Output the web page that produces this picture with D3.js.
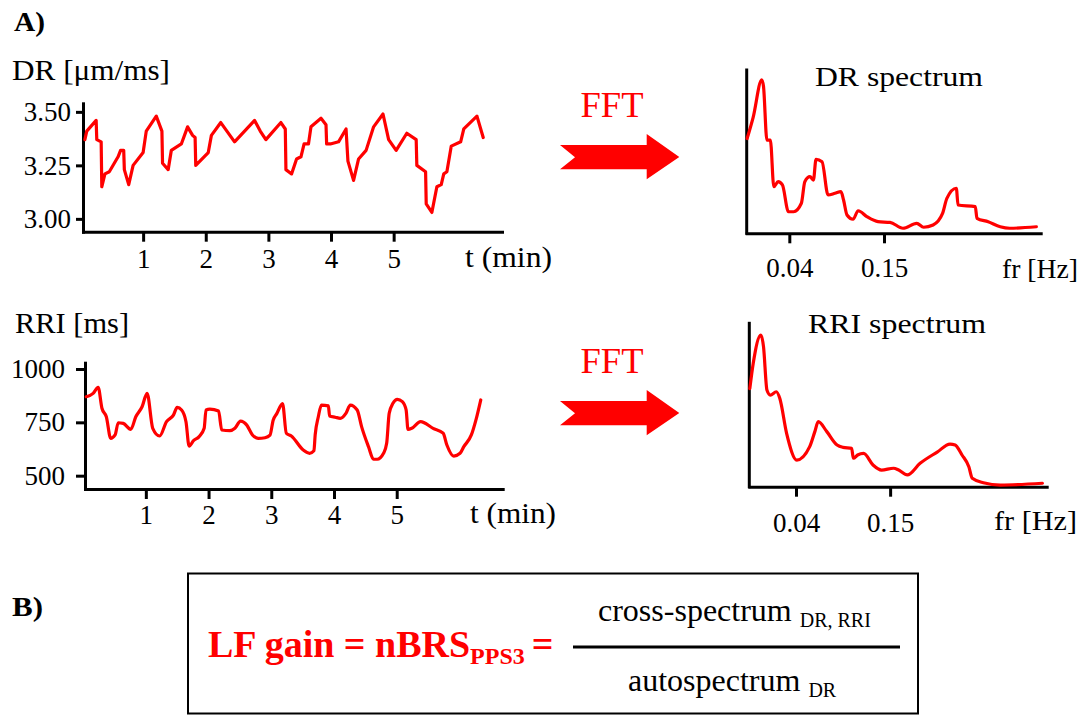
<!DOCTYPE html>
<html><head><meta charset="utf-8">
<script src="https://cdn.jsdelivr.net/npm/d3@7"></script>
<style>body{margin:0;background:#fff}svg text{font-family:"Liberation Serif","Times New Roman",serif}</style>
</head><body>
<svg id="c" width="1088" height="715"></svg>
<script>
// ---- data ----
const drTime=[0.07,0.10,0.25,0.26,0.33,0.34,0.39,0.46,0.60,0.64,0.69,0.70,0.77,0.84,1.00,1.05,1.21,1.30,1.31,1.40,1.45,1.61,1.71,1.79,1.83,1.84,2.04,2.09,2.24,2.46,2.78,2.87,2.96,3.20,3.27,3.28,3.37,3.45,3.52,3.57,3.64,3.68,3.84,3.92,3.93,3.99,4.12,4.24,4.27,4.36,4.44,4.56,4.68,4.83,4.92,5.04,5.21,5.36,5.37,5.51,5.52,5.61,5.69,5.76,5.80,5.85,5.92,6.07,6.12,6.33,6.43];
const drValues=[3.37,3.41,3.46,3.37,3.36,3.15,3.21,3.22,3.29,3.32,3.32,3.23,3.16,3.25,3.31,3.41,3.48,3.41,3.26,3.23,3.32,3.35,3.43,3.39,3.38,3.25,3.31,3.39,3.45,3.36,3.46,3.41,3.37,3.45,3.42,3.23,3.21,3.28,3.29,3.35,3.35,3.43,3.47,3.44,3.35,3.35,3.36,3.42,3.27,3.18,3.28,3.32,3.43,3.49,3.37,3.32,3.40,3.37,3.25,3.22,3.07,3.03,3.15,3.16,3.21,3.22,3.34,3.36,3.42,3.48,3.38];
const rriTime=[0.05,0.16,0.24,0.30,0.37,0.44,0.51,0.56,0.64,0.76,0.84,0.94,1.02,1.11,1.22,1.33,1.44,1.50,1.57,1.64,1.69,1.76,1.85,1.93,1.96,2.02,2.16,2.21,2.34,2.42,2.51,2.61,2.70,2.79,2.90,2.98,3.03,3.09,3.18,3.24,3.32,3.51,3.61,3.68,3.70,3.75,3.80,3.91,3.93,4.02,4.10,4.19,4.26,4.37,4.44,4.55,4.63,4.69,4.79,4.84,4.88,4.94,5.01,5.09,5.15,5.18,5.24,5.38,5.58,5.74,5.80,5.91,6.01,6.07,6.19,6.27,6.34];
const rriValues=[870,886,914,816,776,675,691,748,745,717,776,823,886,722,686,753,784,820,808,753,639,664,683,722,808,812,803,714,711,722,756,737,691,675,678,690,760,792,838,699,686,620,605,617,691,776,831,827,780,774,769,792,831,808,730,636,577,577,605,652,792,839,858,847,808,717,722,753,722,699,644,592,605,636,691,769,855];
const drSpecFreq=[-0.009,-0.002,0.008,0.010,0.014,0.018,0.022,0.027,0.032,0.039,0.045,0.054,0.058,0.064,0.068,0.071,0.078,0.085,0.093,0.100,0.103,0.107,0.114,0.120,0.130,0.143,0.157,0.172,0.188,0.196,0.207,0.218,0.223,0.234,0.236,0.256,0.258,0.271,0.285,0.296,0.327];
const drSpecPower=[0.58,0.71,0.94,0.90,0.57,0.57,0.285,0.316,0.296,0.132,0.132,0.184,0.316,0.347,0.326,0.453,0.438,0.235,0.245,0.255,0.204,0.112,0.086,0.138,0.102,0.071,0.067,0.031,0.061,0.037,0.051,0.122,0.214,0.276,0.173,0.163,0.092,0.071,0.040,0.031,0.040];
const rriSpecFreq=[-0.014,-0.010,-0.001,0.002,0.006,0.010,0.017,0.021,0.029,0.041,0.056,0.062,0.066,0.076,0.088,0.095,0.105,0.107,0.112,0.119,0.130,0.140,0.154,0.160,0.170,0.185,0.205,0.220,0.226,0.234,0.242,0.246,0.259,0.279,0.328];
const rriSpecPower=[0.60,0.755,0.928,0.857,0.592,0.561,0.581,0.541,0.327,0.163,0.245,0.337,0.398,0.337,0.255,0.241,0.235,0.174,0.194,0.204,0.133,0.102,0.113,0.102,0.072,0.143,0.212,0.261,0.255,0.194,0.122,0.051,0.024,0.010,0.021];
const timeTicks=[1,2,3,4,5];
const drTicks=[3.00,3.25,3.50];
const rriTicks=[500,750,1000];
const freqTicks=[0.04,0.15];

// ---- drawing ----
const svg=d3.select('#c');
const RED='#ff0000';
const FONT='"Liberation Serif","Times New Roman",serif';

function panel(o){
  const x=d3.scaleLinear().domain(o.xDomain).range(o.xRange);
  const y=d3.scaleLinear().domain(o.yDomain).range(o.yRange);
  const g=svg.append('g');
  if(o.yTicks){
    const ya=g.append('g').attr('transform',`translate(${o.xRange[0]},0)`)
      .call(d3.axisLeft(y).tickValues(o.yTicks).tickFormat(o.yFmt).tickSize(o.yTickLen).tickSizeOuter(0).tickPadding(o.yPad));
    ya.attr('font-family',FONT).attr('font-size',o.tickFont);
    ya.selectAll('text').attr('fill','#000');
    ya.selectAll('line').attr('stroke','#000').attr('stroke-width',3);
    ya.select('.domain').attr('stroke','#000').attr('stroke-width',3).attr('stroke-linecap','square');
  } else {
    g.append('line').attr('x1',o.xRange[0]).attr('x2',o.xRange[0]).attr('y1',o.yRange[0]).attr('y2',o.yRange[1])
      .attr('stroke','#000').attr('stroke-width',3).attr('stroke-linecap','square');
  }
  const xa=g.append('g').attr('transform',`translate(0,${o.yRange[0]})`)
    .call(d3.axisBottom(x).tickValues(o.xTicks).tickFormat(o.xFmt).tickSize(o.xTickLen).tickSizeOuter(0));
  xa.attr('font-family',FONT).attr('font-size',o.tickFont);
  xa.selectAll('text').attr('fill','#000').attr('dy',null).attr('y',o.xLabelY);
  xa.selectAll('line').attr('stroke','#000').attr('stroke-width',3);
  xa.select('.domain').attr('stroke','#000').attr('stroke-width',3).attr('stroke-linecap','square');
  const line=d3.line().x((d,i)=>x(o.xs[i])).y((d,i)=>y(o.ys[i])).curve(o.curve);
  g.append('path').datum(o.ys).attr('d',line).attr('fill','none').attr('stroke',RED)
    .attr('stroke-width',3.2).attr('stroke-linejoin','round').attr('stroke-linecap','round');
}

function txt(s,x,y,size,opts={}){
  const t=svg.append('text').attr('x',x).attr('y',y).attr('font-size',size).attr('font-family',FONT)
    .attr('fill',opts.fill||'#000').attr('font-weight',opts.bold?'bold':'normal').text(s);
  if(opts.anchor) t.attr('text-anchor',opts.anchor);
  if(opts.len) t.attr('textLength',opts.len).attr('lengthAdjust','spacingAndGlyphs');
  return t;
}

// Panel labels
txt('A)',14,31,27,{bold:true,len:31});
txt('B)',12,616,27,{bold:true,len:31});

// DR time series
txt('DR [\u03bcm/ms]',12,80,29,{len:158});
panel({xDomain:[0.04,6.73],xRange:[83,502],yDomain:[2.94,3.54],yRange:[231.7,103.3],
  yTicks:drTicks,yFmt:d3.format('.2f'),yTickLen:7,yPad:5,xTicks:timeTicks,xFmt:d3.format('d'),xTickLen:10,xLabelY:36,
  tickFont:27,xs:drTime,ys:drValues,curve:d3.curveLinear});
txt('t (min)',465,267,29,{len:87});

// RRI time series
txt('RRI [ms]',15,333,29,{len:114});
panel({xDomain:[0.03,6.69],xRange:[85,502.7],yDomain:[437.6,1029.5],yRange:[489,362.7],
  yTicks:rriTicks,yFmt:d3.format('d'),yTickLen:9,yPad:11,xTicks:timeTicks,xFmt:d3.format('d'),xTickLen:10,xLabelY:34.5,
  tickFont:27,xs:rriTime,ys:rriValues,curve:d3.curveMonotoneX});
txt('t (min)',470,523,29,{len:86});

// DR spectrum
txt('DR spectrum',899,86,27,{anchor:'middle',len:168});
panel({xDomain:[-0.0095,0.332],xRange:[746.7,1040.7],yDomain:[0,1],yRange:[233.3,70],
  yTicks:null,xTicks:freqTicks,xFmt:d3.format('.2f'),xTickLen:10,xLabelY:43.5,
  tickFont:27,xs:drSpecFreq,ys:drSpecPower,curve:d3.curveMonotoneX});
txt('fr [Hz]',1002,278,27,{len:76});

// RRI spectrum
txt('RRI spectrum',897,333,27,{anchor:'middle',len:178});
panel({xDomain:[-0.0146,0.333],xRange:[749.3,1046.7],yDomain:[0,1],yRange:[486.7,323.3],
  yTicks:null,xTicks:freqTicks,xFmt:d3.format('.2f'),xTickLen:10,xLabelY:45,
  tickFont:27,xs:rriSpecFreq,ys:rriSpecPower,curve:d3.curveMonotoneX});
txt('fr [Hz]',994,530,27,{len:83});

// FFT arrows
function arrow(dy){
  const p=d3.path();
  p.moveTo(560,145+dy);p.lineTo(646.7,145+dy);p.lineTo(646.7,134+dy);p.lineTo(679.3,157+dy);
  p.lineTo(646.7,179.3+dy);p.lineTo(646.7,169.3+dy);p.lineTo(560,169.3+dy);p.lineTo(575,157.3+dy);p.closePath();
  svg.append('path').attr('d',p.toString()).attr('fill',RED);
  txt('FFT',612,116.7+dy,36,{anchor:'middle',fill:RED,len:63});
}
arrow(0);arrow(256);

// Formula box
svg.append('rect').attr('x',188).attr('y',573.5).attr('width',730).attr('height',140).attr('fill','none').attr('stroke','#000').attr('stroke-width',2);
const f=svg.append('text').attr('x',208).attr('y',657).attr('font-family',FONT).attr('font-weight','bold').attr('fill',RED).attr('font-size',38);
f.append('tspan').text('LF gain = nBRS');
f.append('tspan').attr('font-size',24).attr('dy',7).text('PPS3');
f.append('tspan').attr('dy',-7).attr('dx',7).text('=');
svg.append('line').attr('x1',573).attr('x2',900).attr('y1',647).attr('y2',647).attr('stroke','#000').attr('stroke-width',3);
const num=svg.append('text').attr('x',598).attr('y',621).attr('font-family',FONT).attr('font-size',32).attr('fill','#000');
num.append('tspan').text('cross-spectrum ');
num.append('tspan').attr('font-size',20).attr('dy',6).text('DR, RRI');
const den=svg.append('text').attr('x',628).attr('y',691).attr('font-family',FONT).attr('font-size',32).attr('fill','#000');
den.append('tspan').text('autospectrum ');
den.append('tspan').attr('font-size',20).attr('dy',6).text('DR');
</script>
</body></html>
